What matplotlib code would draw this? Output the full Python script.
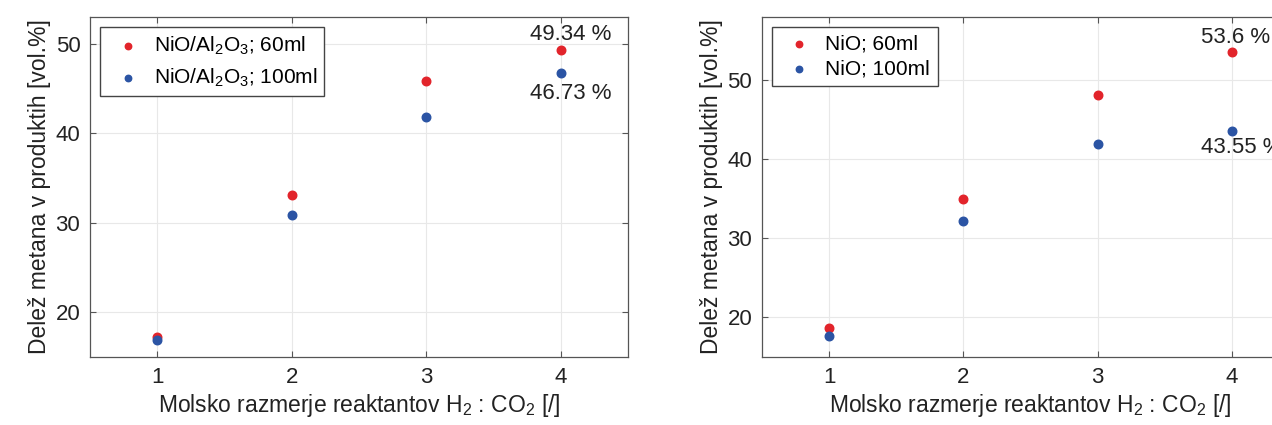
import matplotlib.pyplot as plt

plt.rcParams['font.family'] = ['Liberation Sans', 'DejaVu Sans']
plt.rcParams['mathtext.default'] = 'regular'

ratio = [1, 2, 3, 4]

# left panel: NiO/Al2O3
al_60 = [17.2, 33.1, 45.8, 49.34]
al_100 = [16.9, 30.9, 41.8, 46.73]

# right panel: NiO
nio_60 = [18.7, 35.0, 48.1, 53.6]
nio_100 = [17.7, 32.2, 42.0, 43.55]

red = '#e2242b'
blue = '#2b54a4'

xlabel = 'Molsko razmerje reaktantov H$_2$ : CO$_2$ [/]'
ylabel = 'Delež metana v produktih [vol.%]'


def style_axes(ax, ylim, yticks):
    ax.set_xlim(0.5, 4.5)
    ax.set_ylim(*ylim)
    ax.set_xticks(ratio)
    ax.set_yticks(yticks)
    ax.grid(True, color='#e8e8e8', linewidth=0.8)
    ax.set_axisbelow(True)
    ax.tick_params(direction='in', top=True, right=True, labelsize=16,
                   color='#555555', labelcolor='#222222', length=4, pad=7)
    for s in ax.spines.values():
        s.set_color('#555555')
        s.set_linewidth(0.9)
    ax.set_xlabel(xlabel, fontsize=16.5, color='#222222', labelpad=3)
    ax.set_ylabel(ylabel, fontsize=16.5, color='#222222', labelpad=3)


def add_legend(ax, spacing):
    ax.legend(loc='upper left', fontsize=15, fancybox=False, edgecolor='#444444',
              handletextpad=0.3, borderpad=0.35, labelspacing=spacing,
              handlelength=1.9, scatterpoints=1, markerscale=0.75,
              framealpha=1, borderaxespad=0.5)


fig = plt.figure(figsize=(12.72, 4.25), dpi=100)

ax1 = fig.add_axes([0.0708, 0.16, 0.4229, 0.80])
ax1.scatter(ratio, al_60, s=38, color=red, label='NiO/Al$_2$O$_3$; 60ml', zorder=3)
ax1.scatter(ratio, al_100, s=38, color=blue, label='NiO/Al$_2$O$_3$; 100ml', zorder=3)
style_axes(ax1, (15, 53), [20, 30, 40, 50])
ax1.annotate(f'{al_60[3]:.2f} %', (ratio[3], al_60[3]), xytext=(-22, 11),
             textcoords='offset points', ha='left', va='center', fontsize=16,
             color='#222222')
ax1.annotate(f'{al_100[3]:.2f} %', (ratio[3], al_100[3]), xytext=(-22, -14.5),
             textcoords='offset points', ha='left', va='center', fontsize=16,
             color='#222222')
add_legend(ax1, 0.45)

ax2 = fig.add_axes([0.599, 0.16, 0.4222, 0.80])
ax2.scatter(ratio, nio_60, s=38, color=red, label='NiO; 60ml', zorder=3)
ax2.scatter(ratio, nio_100, s=38, color=blue, label='NiO; 100ml', zorder=3)
style_axes(ax2, (15, 58), [20, 30, 40, 50])
ax2.annotate(f'{nio_60[3]} %', (ratio[3], nio_60[3]), xytext=(-22, 10),
             textcoords='offset points', ha='left', va='center', fontsize=16,
             color='#222222', annotation_clip=False)
ax2.annotate(f'{nio_100[3]} %', (ratio[3], nio_100[3]), xytext=(-22, -12),
             textcoords='offset points', ha='left', va='center', fontsize=16,
             color='#222222', annotation_clip=False)
add_legend(ax2, 0.3)

fig.savefig('out.png', dpi=100)
